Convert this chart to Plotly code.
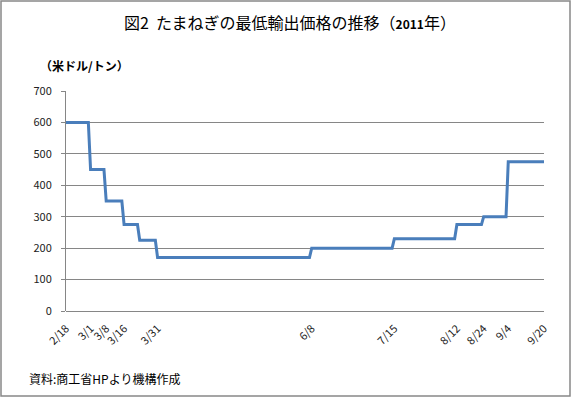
import plotly.graph_objects as go

# Data (price in USD/ton)
dates = ["2011-02-18", "2011-02-28", "2011-03-01", "2011-03-07", "2011-03-08",
         "2011-03-15", "2011-03-16", "2011-03-22", "2011-03-23", "2011-03-30",
         "2011-03-31", "2011-06-07", "2011-06-08", "2011-07-14", "2011-07-15",
         "2011-08-11", "2011-08-12", "2011-08-23", "2011-08-24", "2011-09-03",
         "2011-09-04", "2011-09-20"]
prices = [600, 600, 450, 450, 350, 350, 275, 275, 225, 225, 170, 170, 200, 200,
          230, 230, 275, 275, 300, 300, 475, 475]

tick_dates = ["2011-02-18", "2011-03-01", "2011-03-08", "2011-03-16", "2011-03-31",
              "2011-06-08", "2011-07-15", "2011-08-12", "2011-08-24", "2011-09-04",
              "2011-09-20"]
tick_labels = ["2/18", "3/1", "3/8", "3/16", "3/31", "6/8", "7/15", "8/12", "8/24",
               "9/4", "9/20"]
y_ticks = [0, 100, 200, 300, 400, 500, 600, 700]

FONT = "Noto Sans CJK JP"

fig = go.Figure()
fig.add_trace(go.Scatter(x=dates, y=prices, mode="lines",
                         line=dict(color="#4a7ebb", width=3),
                         showlegend=False, hoverinfo="x+y"))

fig.update_layout(
    width=575, height=399,
    margin=dict(l=66, r=31, t=91, b=88),
    paper_bgcolor="white", plot_bgcolor="white",
    font=dict(family=FONT, color="#222", size=11),
    xaxis=dict(
        range=["2011-02-18", "2011-09-20"],
        tickmode="array", tickvals=tick_dates, ticktext=tick_labels,
        tickangle=-45, showgrid=False, zeroline=False,
        showline=False, ticks="", tickfont=dict(size=11, family=FONT),
        ticklabelstandoff=8,
    ),
    yaxis=dict(
        range=[0, 700], tickmode="array", tickvals=y_ticks,
        showgrid=True, gridcolor="#868686", gridwidth=1,
        showline=True, linecolor="#868686", linewidth=1,
        ticks="outside", ticklen=4, tickcolor="#868686",
        zeroline=True, zerolinecolor="#868686", zerolinewidth=1,
        tickfont=dict(size=11, family=FONT), ticklabelstandoff=7,
    ),
    shapes=[dict(type="rect", xref="paper", yref="paper",
                 x0=-65/478, x1=(570-66)/478, y0=(311-396)/220, y1=(311-1)/220,
                 line=dict(color="#888888", width=1.5), fillcolor="rgba(0,0,0,0)")],
    annotations=[
        dict(text="図2&nbsp;&nbsp;たまねぎの最低輸出価格の推移（<b><span style='font-size:12px'>2011</span></b>年）",
             xref="paper", yref="paper", x=(290-66)/478, y=(311-22)/220,
             xanchor="center", yanchor="middle", showarrow=False,
             font=dict(size=16, family=FONT, color="#000")),
        dict(text="<b>（米ドル/トン）</b>",
             xref="paper", yref="paper", x=(38-66)/478, y=(311-65)/220,
             xanchor="left", yanchor="middle", showarrow=False,
             font=dict(size=12, family=FONT, color="#000")),
        dict(text="資料:商工省HPより機構作成",
             xref="paper", yref="paper", x=(27-66)/478, y=(311-378)/220,
             xanchor="left", yanchor="middle", showarrow=False,
             font=dict(size=12, family=FONT, color="#000")),
    ],
)

fig.write_html("out.html", config={"displayModeBar": False},
               post_script="document.body.style.margin='0';document.body.style.overflow='hidden';")
